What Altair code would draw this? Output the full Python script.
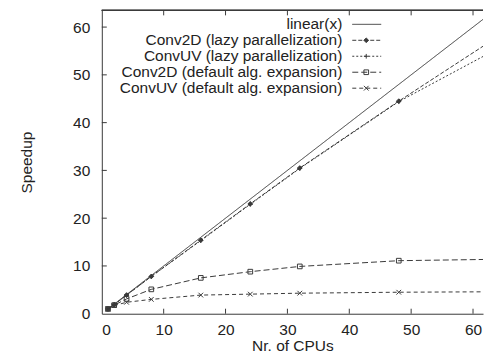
import altair as alt
import pandas as pd

# ---- data ----
cpus = [1, 2, 4, 8, 16, 24, 32, 48, 64]
linear = [1, 2, 4, 8, 16, 24, 32, 48, 64]
conv2d_lazy = [1.0, 1.9, 3.9, 7.8, 15.4, 23.0, 30.5, 44.5, 58.0]
convuv_lazy = [1.0, 1.9, 3.9, 7.8, 15.3, 22.9, 30.4, 44.4, 55.5]
conv2d_default = [1.0, 1.8, 3.1, 5.1, 7.5, 8.8, 9.9, 11.1, 11.4]
convuv_default = [1.0, 1.7, 2.4, 3.0, 3.9, 4.1, 4.3, 4.5, 4.6]

names = [
    "linear(x)",
    "Conv2D (lazy parallelization)",
    "ConvUV (lazy parallelization)",
    "Conv2D (default alg. expansion)",
    "ConvUV (default alg. expansion)",
]
series_values = [linear, conv2d_lazy, convuv_lazy, conv2d_default, convuv_default]
has_marker = [False, True, True, True, True]
tick_values = [10, 20, 30, 40, 50, 60]

# ---- styles ----
dashes = [[1, 0], [4, 2], [2, 2], [6, 3], [4, 3]]
marker_names = [n for n, m in zip(names, has_marker) if m]
marker_shapes = ["diamond", "M-1,0L1,0M0,-1L0,1", "square", "M-1,-1L1,1M-1,1L1,-1"]
marker_fills = ["#3a3a3a", "#3a3a3a", "none", "none"]

W, H = 382, 304
FONT = "Liberation Sans"
FS = 15.5
INK = "#3a3a3a"

rows = []
for n, vals in zip(names, series_values):
    for c, v in zip(cpus, vals):
        rows.append({"series": n, "cpus": c, "speedup": v})
df = pd.DataFrame(rows)
df_pts = df[df["series"].isin(marker_names)]

xscale = alt.Scale(domain=[0, W / 6.2], nice=False, zero=False)
yscale = alt.Scale(domain=[0, 63.5], nice=False, zero=False)
dash_scale = alt.Scale(domain=names, range=dashes)
shape_scale = alt.Scale(domain=marker_names, range=marker_shapes)
fill_scale = alt.Scale(domain=marker_names, range=marker_fills)

x_enc = alt.X("cpus:Q", scale=xscale,
              axis=alt.Axis(title="Nr. of CPUs", values=tick_values + [0], ticks=False,
                            labelPadding=9, titlePadding=0, grid=False))
y_enc = alt.Y("speedup:Q", scale=yscale,
              axis=alt.Axis(title="Speedup", values=tick_values + [0], ticks=False,
                            labelPadding=12, titlePadding=38, grid=False))

lines = alt.Chart(df).mark_line(color=INK, strokeWidth=1, clip=True).encode(
    x=x_enc, y=y_enc,
    strokeDash=alt.StrokeDash("series:N", scale=dash_scale, legend=None),
    detail="series:N",
)
points = alt.Chart(df_pts).mark_point(color=INK, strokeWidth=1, size=22, opacity=1, clip=True).encode(
    x=alt.X("cpus:Q", scale=xscale),
    y=alt.Y("speedup:Q", scale=yscale),
    shape=alt.Shape("series:N", scale=shape_scale, legend=None),
    fill=alt.Fill("series:N", scale=fill_scale, legend=None),
)

ticks_df = pd.DataFrame({"t": tick_values})
tick_x_bottom = alt.Chart(ticks_df).mark_rule(color=INK, strokeWidth=1).encode(
    x=alt.X("t:Q", scale=xscale), y=alt.value(H), y2=alt.value(H - 5))
tick_x_top = alt.Chart(ticks_df).mark_rule(color=INK, strokeWidth=1).encode(
    x=alt.X("t:Q", scale=xscale), y=alt.value(0), y2=alt.value(5))
tick_y_left = alt.Chart(ticks_df).mark_rule(color=INK, strokeWidth=1).encode(
    y=alt.Y("t:Q", scale=yscale), x=alt.value(0), x2=alt.value(5))
top_border = alt.Chart(ticks_df).mark_rule(color=INK, strokeWidth=1).encode(
    x=alt.value(0), x2=alt.value(W), y=alt.value(0))

main = alt.layer(lines, points, tick_x_bottom, tick_x_top, tick_y_left, top_border)

# ---- gnuplot-style key: text on the left, sample on the right ----
leg_df = pd.DataFrame({"series": names})
leg_y = alt.Y("series:N", sort=names, axis=None,
              scale=alt.Scale(type="point", domain=names, range=[14, 78], padding=0))
leg_text = alt.Chart(leg_df).mark_text(align="right", baseline="middle", font=FONT,
                                       fontSize=FS, color="#222222").encode(
    x=alt.value(241), y=leg_y, text="series:N")
leg_rule = alt.Chart(leg_df).mark_rule(color=INK, strokeWidth=1).encode(
    x=alt.value(251), x2=alt.value(280), y=leg_y,
    strokeDash=alt.StrokeDash("series:N", scale=dash_scale, legend=None))
leg_pts = alt.Chart(pd.DataFrame({"series": marker_names})).mark_point(
    color=INK, strokeWidth=1, size=22, opacity=1).encode(
    x=alt.value(265), y=leg_y,
    shape=alt.Shape("series:N", scale=shape_scale, legend=None),
    fill=alt.Fill("series:N", scale=fill_scale, legend=None))
legend = alt.layer(leg_text, leg_rule, leg_pts)

chart = alt.layer(main, legend).resolve_scale(y="independent").properties(
    width=W, height=H,
    padding={"left": 11, "top": 1, "right": 0, "bottom": 0},
).configure_view(stroke=None).configure_axis(
    labelFont=FONT, titleFont=FONT, labelFontSize=FS, titleFontSize=FS,
    labelColor="#222222", titleColor="#222222", titleFontWeight="normal",
    domainColor=INK, domainWidth=1,
)

chart.save("out.html", embed_options={"renderer": "svg", "actions": False})
